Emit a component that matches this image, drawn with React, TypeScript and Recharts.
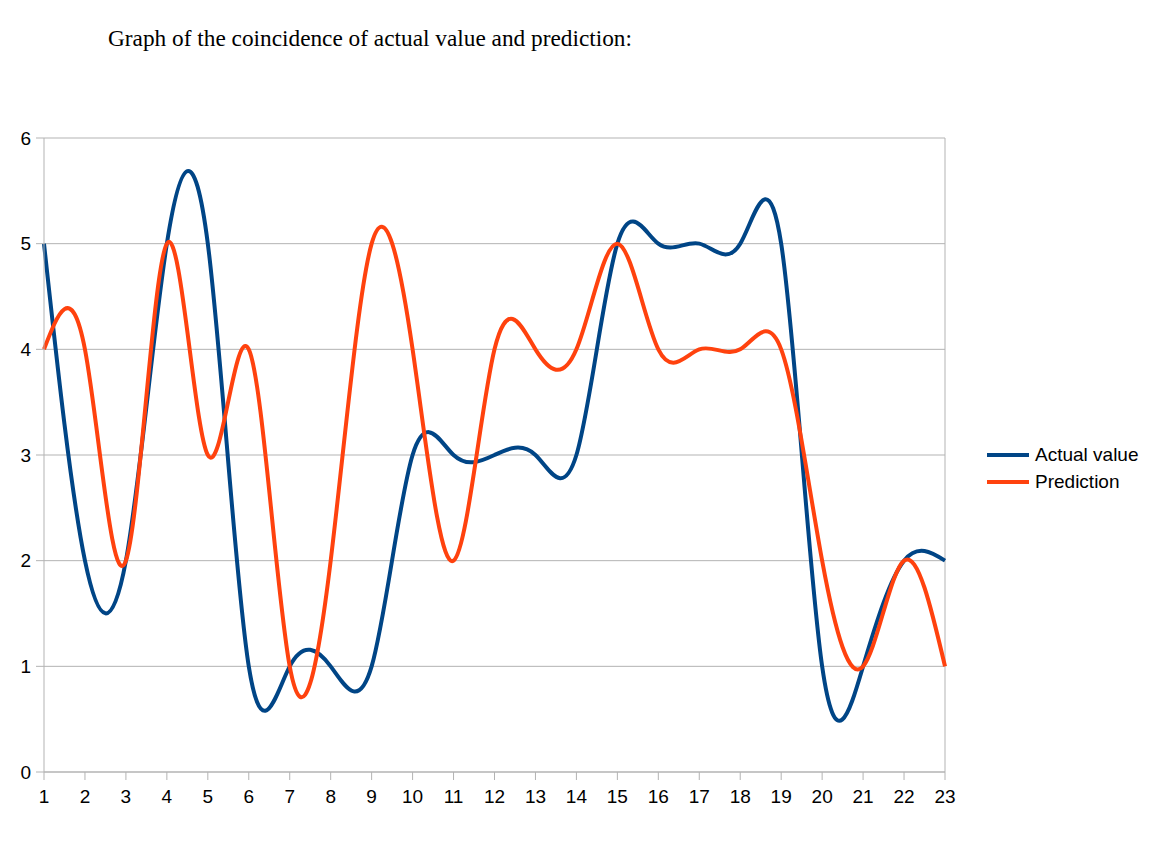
import { LineChart, Line, XAxis, YAxis, CartesianGrid, ReferenceLine } from 'recharts'

const categories = [1, 2, 3, 4, 5, 6, 7, 8, 9, 10, 11, 12, 13, 14, 15, 16, 17, 18, 19, 20, 21, 22, 23]
const actualValues = [5, 2, 2, 5, 5, 1, 1, 1, 1, 3, 3, 3, 3, 3, 5, 5, 5, 5, 5, 1, 1, 2, 2]
const predictionValues = [4, 4, 2, 5, 3, 4, 1, 2, 5, 4, 2, 4, 4, 4, 5, 4, 4, 4, 4, 2, 1, 2, 1]
const yTicks = [0, 1, 2, 3, 4, 5, 6]

const BLUE = '#004586'
const ORANGE = '#ff420e'
const GRID = '#b3b3b3'

const data = categories.map((x, i) => ({
  x,
  actual: actualValues[i],
  prediction: predictionValues[i],
}))

const tickStyle = { fill: '#000', fontSize: 19, fontFamily: '"Liberation Sans", Arial, sans-serif' }

export default function App() {
  return (
    <div style={{ position: 'relative', width: 1152, height: 862, background: '#fff' }}>
      <style>{`body { margin: 0; }`}</style>
      {/* title */}
      <div
        style={{
          position: 'absolute',
          left: 108,
          top: 25,
          fontFamily: '"Liberation Serif", "Times New Roman", serif',
          fontSize: 23.3,
          color: '#000',
          whiteSpace: 'nowrap',
        }}
      >
        Graph of the coincidence of actual value and prediction:
      </div>

      <LineChart width={1152} height={862} data={data} margin={{ top: 138, right: 207, bottom: 0, left: 0 }}>
        <CartesianGrid vertical={false} stroke={GRID} strokeWidth={1} />
        <ReferenceLine x={23} stroke={GRID} strokeWidth={1} />
        <XAxis
          dataKey="x"
          type="number"
          domain={[1, 23]}
          ticks={categories}
          interval={0}
          stroke={GRID}
          tick={tickStyle}
          tickSize={8}
          tickMargin={10}
          height={90}
        />
        <YAxis
          domain={[0, 6]}
          ticks={yTicks}
          stroke={GRID}
          tick={tickStyle}
          tickSize={8}
          tickMargin={5}
          width={44}
        />
        <Line
          type="natural"
          dataKey="actual"
          name="Actual value"
          stroke={BLUE}
          strokeWidth={4}
          dot={false}
          isAnimationActive={false}
        />
        <Line
          type="natural"
          dataKey="prediction"
          name="Prediction"
          stroke={ORANGE}
          strokeWidth={4}
          dot={false}
          isAnimationActive={false}
        />
      </LineChart>

      {/* legend */}
      <div
        style={{
          position: 'absolute',
          left: 987,
          top: 441,
          fontFamily: '"Liberation Sans", Arial, sans-serif',
          fontSize: 19,
          color: '#000',
          lineHeight: '27px',
        }}
      >
        {[
          { label: 'Actual value', color: BLUE },
          { label: 'Prediction', color: ORANGE },
        ].map((item) => (
          <div key={item.label} style={{ display: 'flex', alignItems: 'center', whiteSpace: 'nowrap' }}>
            <span style={{ display: 'inline-block', width: 42, height: 4, background: item.color, marginRight: 6 }} />
            {item.label}
          </div>
        ))}
      </div>
    </div>
  )
}
